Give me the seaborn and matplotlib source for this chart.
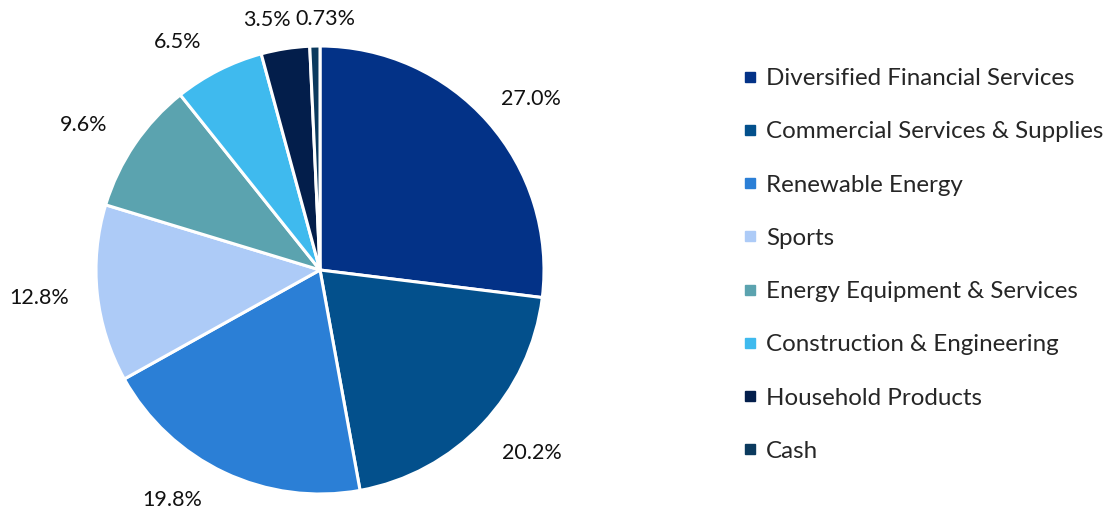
import matplotlib
matplotlib.use("Agg")
import matplotlib.pyplot as plt
from matplotlib.lines import Line2D
import numpy as np
import seaborn as sns

# Portfolio allocation by sector
sectors = [
    "Diversified Financial Services",
    "Commercial Services & Supplies",
    "Renewable Energy",
    "Sports",
    "Energy Equipment & Services",
    "Construction & Engineering",
    "Household Products",
    "Cash",
]
weights = [27.0, 20.2, 19.8, 12.8, 9.6, 6.5, 3.5, 0.73]
pct_labels = ["27.0%", "20.2%", "19.8%", "12.8%", "9.6%", "6.5%", "3.5%", "0.73%"]
colors = ["#033287", "#03508C", "#2B7FD6", "#ADCBF7",
          "#5BA3AF", "#3FBAEE", "#031E4B", "#0B3A5E"]

# label placement tweaks (like Excel's auto layout): radius factor, angle shift
label_dist = [1.21, 1.25, 1.22, 1.26, 1.24, 1.2, 1.14, 1.12]
label_shift = [-2.4, 2.7, -7.5, -0.5, 2.6, 5.2, 3.1, -2.6]

sns.set_style("white")
plt.rcParams["font.family"] = ["Lato", "DejaVu Sans"]

fig = plt.figure(figsize=(11.17, 5.18), dpi=100)
W, H = 1117, 518
cx, cy, r = 320, 248, 224
ax = fig.add_axes([(cx - r) / W, (cy - r) / H, 2 * r / W, 2 * r / H])

wedges, _ = ax.pie(
    weights,
    colors=colors,
    startangle=90,
    counterclock=False,
    wedgeprops=dict(edgecolor="white", linewidth=2.2),
)
for w, lab, d, s in zip(wedges, pct_labels, label_dist, label_shift):
    ang = np.deg2rad((w.theta1 + w.theta2) / 2 + s)
    ax.text(d * np.cos(ang), d * np.sin(ang), lab, ha="center", va="center",
            fontsize=15.5, color="#111111", clip_on=False)

ax.set_xlim(-1, 1)
ax.set_ylim(-1, 1)
ax.set_aspect("equal")
ax.axis("off")

handles = [Line2D([0], [0], marker="s", linestyle="", markersize=7,
                  markerfacecolor=c, markeredgecolor=c) for c in colors]
fig.legend(handles, sectors, loc="upper left",
           bbox_to_anchor=(731 / W, 1 - 56 / H),
           frameon=False, fontsize=17.4, labelspacing=1.335,
           handlelength=0.6, handletextpad=0.35, borderpad=0)

fig.savefig("out.png", dpi=100)
